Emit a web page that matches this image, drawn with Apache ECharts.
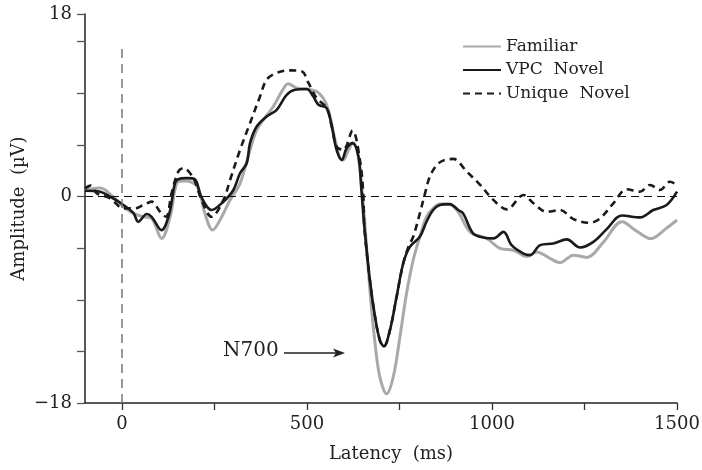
<!DOCTYPE html>
<html>
<head>
<meta charset="utf-8">
<title>N700</title>
<script src="https://cdn.jsdelivr.net/npm/echarts@6/dist/echarts.min.js"></script>
<style>
  html, body { margin: 0; padding: 0; background: #fff; }
  #chart { width: 702px; height: 470px; }
</style>
</head>
<body>
<div id="chart"></div>
<script>
// ms / µV, one pair of arrays per condition
const familiarMs = [-100, -59, -24, 4, 31, 58, 80, 107, 130, 143, 152, 168, 184, 206, 224, 245, 265, 292, 319, 346, 364, 382, 409, 432, 449, 472, 499, 526, 549, 562, 576, 589, 598, 612, 625, 637, 647, 655, 670, 684, 697, 715, 733, 751, 769, 787, 805, 823, 841, 859, 878, 905, 941, 986, 1022, 1058, 1094, 1121, 1157, 1184, 1220, 1256, 1301, 1351, 1391, 1430, 1471, 1500];
const familiarAmp = [0.55, 0.74, -0.02, -0.89, -1.47, -1.77, -1.91, -3.65, -1.77, 0.57, 1.29, 1.35, 1.29, 0.72, -1.47, -2.93, -2.05, -0.31, 1.15, 4.06, 5.81, 6.69, 7.85, 9.16, 9.83, 9.46, 9.37, 9.16, 8.29, 6.98, 4.94, 3.34, 3.19, 4.06, 4.68, 3.78, 1.15, -1.77, -8.17, -12.83, -15.75, -17.2, -15.75, -12.26, -8.46, -5.55, -3.51, -1.77, -1.03, -0.66, -0.66, -1.18, -3.1, -3.65, -4.53, -4.68, -5.24, -4.83, -5.4, -5.77, -5.11, -5.31, -3.98, -2.2, -3.02, -3.67, -2.78, -2.05];

const vpcMs = [-100, -59, -32, 4, 31, 44, 67, 80, 107, 128, 143, 152, 175, 197, 214, 242, 274, 301, 319, 337, 346, 364, 391, 418, 445, 468, 499, 517, 531, 553, 567, 580, 594, 607, 623, 639, 647, 655, 670, 684, 697, 708, 724, 742, 760, 778, 805, 823, 841, 859, 886, 909, 922, 949, 976, 1004, 1031, 1053, 1085, 1103, 1130, 1166, 1202, 1238, 1274, 1310, 1351, 1400, 1436, 1472, 1500];
const vpcAmp = [0.5, 0.42, -0.02, -0.74, -1.44, -2.2, -1.53, -1.77, -2.93, -1.47, 1.15, 1.5, 1.6, 1.5, -0.02, -1.18, -0.45, 0.57, 2.03, 2.9, 4.65, 6.1, 6.98, 7.56, 8.87, 9.31, 9.37, 8.72, 8.0, 7.71, 6.1, 4.06, 3.19, 4.21, 4.65, 3.48, 0.57, -2.64, -7.3, -10.51, -12.54, -13.07, -11.67, -8.76, -5.84, -4.39, -3.51, -2.2, -1.18, -0.74, -0.66, -1.18, -1.47, -3.22, -3.57, -3.65, -3.08, -4.24, -4.97, -5.11, -4.24, -4.09, -3.74, -4.44, -3.95, -2.84, -1.66, -1.82, -1.18, -0.74, 0.42];

const uniqueMs = [-100, -85, -68, -32, 4, 35, 58, 80, 103, 119, 134, 152, 166, 193, 215, 242, 274, 292, 319, 346, 373, 391, 418, 454, 486, 504, 526, 553, 567, 580, 598, 623, 643, 652, 655, 670, 684, 697, 708, 724, 742, 760, 774, 787, 805, 819, 832, 851, 868, 895, 932, 968, 1004, 1040, 1085, 1112, 1148, 1184, 1220, 1265, 1292, 1328, 1364, 1400, 1427, 1454, 1481, 1500];
const uniqueAmp = [0.7, 0.95, 0.28, -0.16, -1.03, -1.03, -0.74, -0.45, -1.33, -1.77, 0.28, 2.17, 2.47, 1.59, -0.31, -1.77, -0.31, 1.44, 4.06, 6.4, 8.72, 10.18, 10.77, 11.0, 10.91, 9.9, 8.58, 7.71, 6.1, 4.35, 4.06, 5.75, 3.19, 0.28, -2.64, -7.3, -10.51, -12.54, -13.07, -11.67, -8.76, -5.84, -4.39, -3.51, -1.47, 0.28, 1.73, 2.75, 3.13, 3.28, 2.17, 1.01, -0.31, -1.12, 0.13, -0.59, -1.33, -1.18, -1.97, -2.29, -1.91, -0.59, 0.63, 0.42, 1.01, 0.57, 1.29, 1.01];

const seriesNames = ['Familiar', 'VPC  Novel', 'Unique  Novel'];

// axis ticks / labels
const xTicks = [0, 250, 500, 750, 1000, 1250, 1500];
const xLabels = [0, 500, 1000, 1500];
const yTop = 15.91; // top of the axis, labelled 18 in the figure
const yTicks = [-18, -13.5, -9, -4.5, 0, 4.5, 9, 13.5, yTop];
const yLabels = [-18, 0, yTop];

const serif = 'DejaVu Serif';

function pairs(xs, ys) {
  return xs.map((x, i) => [x, ys[i]]);
}

const chart = echarts.init(document.getElementById('chart'));

const option = {
  animation: false,
  backgroundColor: '#fff',
  grid: {left: 85, right: 25, top: 14, bottom: 67, containLabel: false, outerBoundsMode: 'none'},
  legend: {
    orient: 'vertical',
    left: 457,
    top: 33,
    itemWidth: 38,
    itemHeight: 14,
    itemGap: 6.5,
    data: seriesNames,
    itemStyle: {opacity: 0},
    textStyle: {fontFamily: serif, fontSize: 17, color: '#222'}
  },
  xAxis: {
    type: 'value',
    min: -100,
    max: 1500,
    name: 'Latency  (ms)',
    nameLocation: 'middle',
    nameGap: 42,
    nameTextStyle: {fontFamily: serif, fontSize: 18, color: '#222', padding: [0, 0, 0, 20]},
    axisLine: {onZero: false, lineStyle: {color: '#222', width: 1.5}},
    axisTick: {show: true, length: 7, customValues: xTicks, lineStyle: {color: '#333', width: 1.3}},
    axisLabel: {customValues: xLabels, margin: 12, fontFamily: serif, fontSize: 18, color: '#222', formatter: v => String(v)},
    splitLine: {show: false}
  },
  yAxis: {
    type: 'value',
    min: -18,
    max: yTop,
    name: 'Amplitude  (µV)',
    nameLocation: 'middle',
    nameGap: 57,
    nameMoveOverlap: false,
    nameTextStyle: {fontFamily: serif, fontSize: 18, color: '#222'},
    axisLine: {show: true, onZero: false, lineStyle: {color: '#222', width: 1.5}},
    axisTick: {show: true, length: 8, customValues: yTicks, lineStyle: {color: '#555', width: 1.3}},
    axisLabel: {
      customValues: yLabels,
      margin: 13,
      fontFamily: serif,
      fontSize: 18,
      color: '#222',
      formatter: v => (v === -18 ? '\u221218' : v > 15 ? '18' : '0')
    },
    splitLine: {show: false}
  },
  series: [
    {
      name: seriesNames[0],
      type: 'line',
      data: pairs(familiarMs, familiarAmp),
      showSymbol: false,
      symbol: 'none',
      smooth: 0.35,
      lineStyle: {color: '#a9a9a9', width: 3},
      itemStyle: {color: '#a9a9a9'},
      z: 2,
      // zero lines
      markLine: {
        silent: true,
        symbol: 'none',
        label: {show: false},
        data: [
          [{coord: [-100, 0], lineStyle: {color: '#111', width: 1.2, type: [8, 5]}}, {coord: [1500, 0]}],
          [{coord: [0, -18], lineStyle: {color: '#777', width: 1.5, type: [9, 6]}}, {coord: [0, 13]}]
        ]
      }
    },
    {
      name: seriesNames[1],
      type: 'line',
      data: pairs(vpcMs, vpcAmp),
      showSymbol: false,
      symbol: 'none',
      smooth: 0.35,
      lineStyle: {color: '#1a1a1a', width: 2.6},
      itemStyle: {color: '#1a1a1a'},
      z: 3
    },
    {
      name: seriesNames[2],
      type: 'line',
      data: pairs(uniqueMs, uniqueAmp),
      showSymbol: false,
      symbol: 'none',
      smooth: 0.35,
      lineStyle: {color: '#1a1a1a', width: 2.6, type: [7, 5]},
      itemStyle: {color: '#1a1a1a'},
      z: 4
    }
  ],
  // N700 label with arrow
  graphic: [
    {type: 'text', left: 223, top: 341, style: {text: 'N700', font: '20px "DejaVu Serif"', fill: '#222'}},
    {type: 'line', shape: {x1: 284, y1: 353, x2: 336, y2: 353}, style: {stroke: '#222', lineWidth: 1.3}},
    {type: 'polygon', shape: {points: [[345, 353], [333, 348.5], [336, 353], [333, 357.5]]}, style: {fill: '#222'}}
  ]
};

chart.setOption(option);
</script>
</body>
</html>
